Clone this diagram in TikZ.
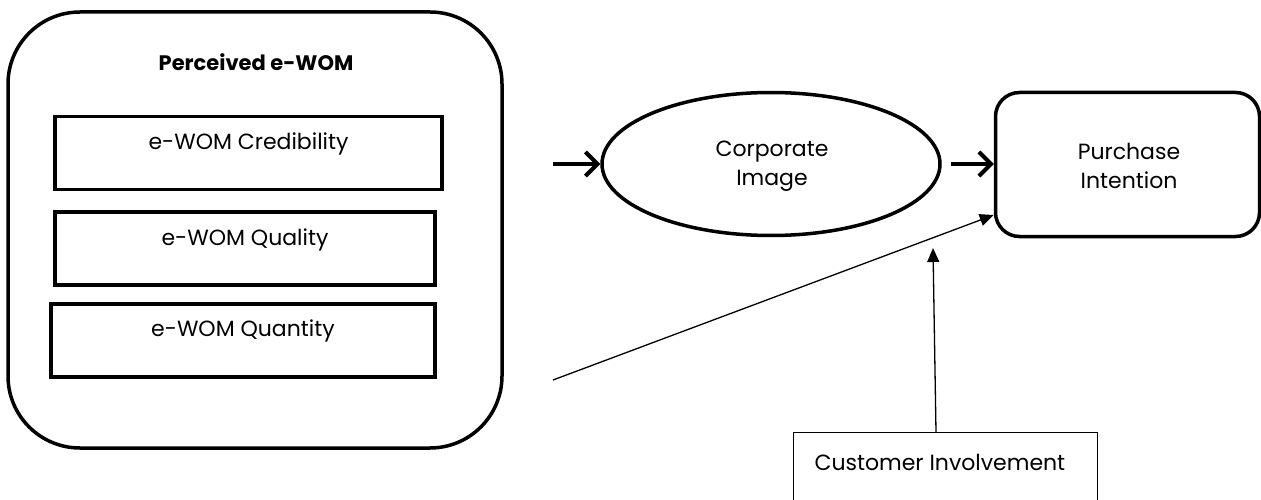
\documentclass[tikz,border=0pt]{standalone}
\usepackage{fontspec}
\setmainfont{Poppins}
\usetikzlibrary{arrows.meta,shapes.geometric}
\tikzset{
  sub/.style={draw,line width=3.5pt,minimum height=73pt,inner sep=0pt},
  lbl/.style={font=\fontsize{22}{29}\selectfont,align=center},
  bigarrow/.style={line width=4pt,-{Straight Barb[length=12pt,width=24pt,line width=4pt]}},
  thinarrow/.style={line width=1.3pt,-{Triangle[length=14pt,width=12pt]}},
}
\begin{document}
\begin{tikzpicture}[x=1pt,y=-1pt]
\useasboundingbox (0,0) rectangle (1261,500);
\clip (0,0) rectangle (1261,500);
% outer group
\node[draw,line width=3.5pt,rounded corners=72pt,minimum width=494pt,minimum height=436pt,inner sep=0pt] (outer) at (255,230) {};
\node[lbl,font=\fontsize{21}{29}\selectfont\bfseries] (title) at (256,62) {Perceived e-WOM};
\node[sub,minimum width=387pt] (cred) at (248.5,153) {};
\node[lbl] (credt) at (248.5,144) {e-WOM Credibility};
\node[sub,minimum width=380pt] (qual) at (245,248.5) {};
\node[lbl] (qualt) at (245,240) {e-WOM Quality};
\node[sub,minimum width=384pt] (quan) at (243,340.5) {};
\node[lbl] (quant) at (243,331) {e-WOM Quantity};
% corporate image
\node[draw,ellipse,line width=3.5pt,minimum width=338pt,minimum height=143pt,inner sep=0pt] (ci) at (771,164) {};
\node[lbl] (cit) at (772,166) {Corporate\\Image};
% purchase intention
\node[draw,line width=3.5pt,rounded corners=24pt,minimum width=264pt,minimum height=144pt,inner sep=0pt] (pi) at (1127.5,164.5) {};
\node[lbl] (pit) at (1129,166) {Purchase\\Intention};
% customer involvement
\node[draw,line width=1.2pt,minimum width=304pt,minimum height=100pt,inner sep=0pt,anchor=north west] (cust) at (793,432) {};
\node[lbl,anchor=west] (custt) at (811,462) {Customer Involvement};
% connectors
\coordinate (a1) at (553,164);
\draw[bigarrow] (a1) -- (ci.west);
\coordinate (a2) at (951,164);
\draw[bigarrow] (a2) -- (pi.west |- a2);
\coordinate (s3) at (553,380);
\coordinate (e3) at (pi.west |- 0,215);
\draw[thinarrow] (s3) -- (e3);
\coordinate (e4) at (933,248);
\draw[thinarrow] (cust.north west -| 936,0) -- (e4);
\end{tikzpicture}
\end{document}
